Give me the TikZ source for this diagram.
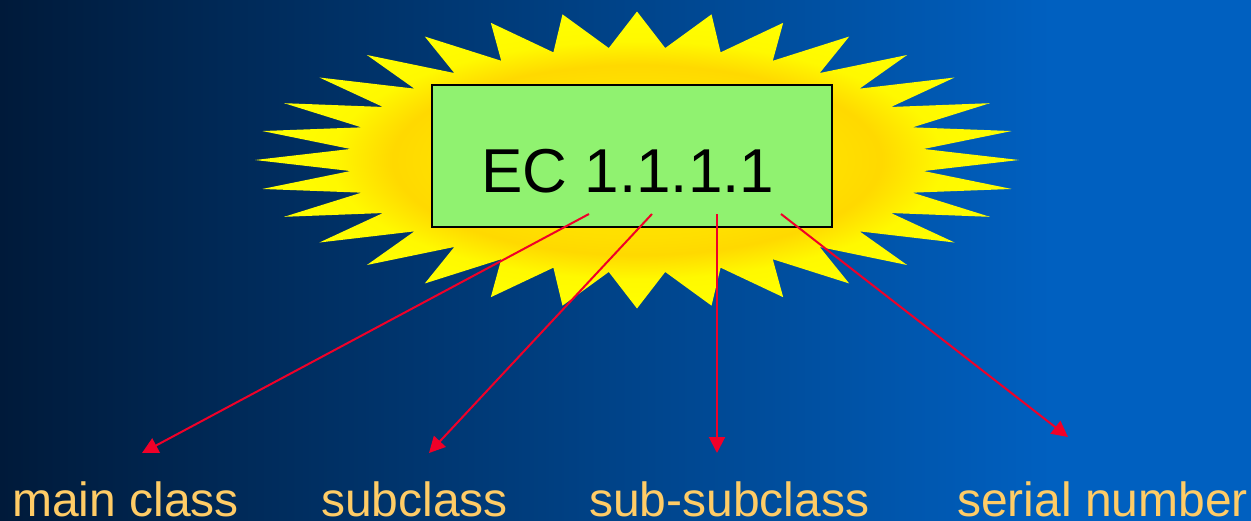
\documentclass[tikz,border=0pt]{standalone}
\usepackage{fontspec}
\setmainfont{Liberation Sans}
\usetikzlibrary{arrows.meta}

\definecolor{boxgreen}{RGB}{144,242,112}
\definecolor{labeltan}{RGB}{255,204,102}
\definecolor{arrowred}{RGB}{240,0,40}

% background: dark navy on the left to bright blue on the right
\pgfdeclarehorizontalshading{bgshade}{100bp}{%
  rgb(0bp)=(0,0.102,0.227); rgb(25bp)=(0,0.102,0.227);
  rgb(67bp)=(0,0.376,0.753); rgb(100bp)=(0,0.376,0.753)}

% starburst: yellow tips with a golden ring around the middle
\pgfdeclareradialshading{burstshade}{\pgfpoint{0bp}{0bp}}{%
  color(0bp)=(yellow!85!orange); color(13bp)=(yellow!75!orange);
  color(16bp)=(yellow!70!orange); color(20bp)=(yellow!95!orange);
  color(25bp)=(yellow); color(50bp)=(yellow)}

\tikzset{
  lbl/.style={anchor=base west, inner sep=0pt, text=labeltan, font=\fontsize{48}{50}\selectfont},
  ecbox/.style={draw=black, line width=2.7pt, fill=boxgreen, minimum width=400pt, minimum height=142pt, inner sep=0pt},
  pointer/.style={draw=arrowred, line width=2pt, -{Triangle[length=16pt,width=16pt]}}
}

\begin{document}
\begin{tikzpicture}[x=1pt,y=-1pt]
  \useasboundingbox (0,0) rectangle (1251,520);
  \shade[shading=bgshade] (0,0) rectangle (1251,520);

  % 32-point star
  \shade[shading=burstshade]
    (637,11.5) \foreach \k in {0,...,31}{
      -- ({637+382*sin(\k*11.25)},{160-148.5*cos(\k*11.25)})
      -- ({637+288*sin((\k+0.5)*11.25)},{160-112.5*cos((\k+0.5)*11.25)})
    } -- cycle;

  \node[ecbox] (ec) at (632,156) {};
  \node[anchor=base, inner sep=0pt, font=\fontsize{62}{64}\selectfont] (ectext) at (628,192) {EC 1.1.1.1};

  % arrow anchors
  \coordinate (s1) at (589,214);
  \coordinate (s2) at (652,214);
  \coordinate (s3) at (717,214);
  \coordinate (s4) at (781,214);
  \coordinate (e1) at (142,453);
  \coordinate (e2) at (429,453);
  \coordinate (e3) at (717,453);
  \coordinate (e4) at (1068,437);

  \draw[pointer] (s1) -- (e1);
  \draw[pointer] (s2) -- (e2);
  \draw[pointer] (s3) -- (e3);
  \draw[pointer] (s4) -- (e4);

  \node[lbl] (main) at (12,516) {main class};
  \node[lbl] (sub) at (321,516) {subclass};
  \node[lbl] (subsub) at (589,516) {sub-subclass};
  \node[lbl] (serial) at (957,516) {serial number};
\end{tikzpicture}
\end{document}
